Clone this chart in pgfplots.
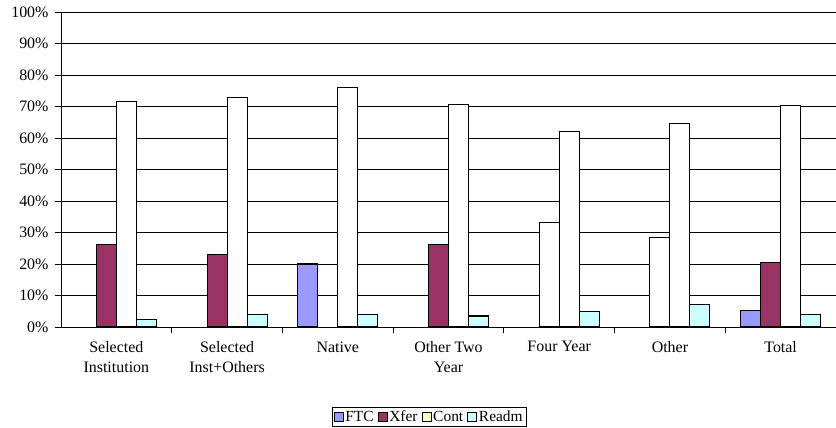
\documentclass[border=0pt]{standalone}
\usepackage{pgfplots}
\pgfplotsset{compat=1.18}
\usepackage{fontspec}
\setmainfont{Liberation Serif}
\definecolor{ftc}{HTML}{9999FF}
\definecolor{xfer}{HTML}{993366}
\definecolor{contc}{HTML}{FFFFCC}
\definecolor{readm}{HTML}{CCFFFF}
\newcommand{\chartfont}{\fontsize{16}{20}\selectfont}
\newcommand{\legfont}{\fontsize{15.5}{18}\selectfont}
\begin{document}
\begin{tikzpicture}
\begin{axis}[
  scale only axis, width=775bp, height=315bp,
  xmin=-0.5, xmax=6.5, ymin=0, ymax=100,
  axis x line=bottom, axis y line=left,
  axis line style={-, black, line width=0.9bp},
  bar width=20bp,
  ytick={0,10,...,100},
  yticklabels={0\%,10\%,20\%,30\%,40\%,50\%,60\%,70\%,80\%,90\%,100\%},
  yticklabel style={xshift=-3bp},
  xtick={0,...,6},
  xticklabels={{Selected\\Institution},{Selected\\Inst+Others},{Native},{Other Two\\Year},{Four Year},{Other},{Total}},
  xticklabel style={align=center, yshift=-5bp},
  major x tick style={draw=none},
  minor xtick={0.5,1.5,...,5.5},
  tick align=outside,
  major tick length=6bp, minor tick length=6bp,
  tick style={black, line width=0.9bp},
  ymajorgrids, grid style={black, line width=0.7bp},
  tick label style={font=\chartfont},
  legend columns=4,
  legend style={draw=black, line width=0.7bp, at={(rel axis cs:0.475,-0.285)}, anchor=center,
    font=\legfont, inner sep=1.5bp,
    /tikz/every odd column/.append style={column sep=0bp},
    /tikz/every even column/.append style={column sep=2bp}},
  legend image code/.code={\draw[#1, line width=0.7bp] (0bp,-4.5bp) rectangle (9bp,4.5bp);},
]
\addplot[ybar, bar shift=-30bp, draw=black, line width=1.1bp, fill=ftc] coordinates {(2,20.0) (6,5.3)};
\addlegendentry{FTC}
\addplot[ybar, bar shift=-10bp, draw=black, line width=1.1bp, fill=xfer] coordinates {(0,26.1) (1,23.0) (3,26.2) (6,20.6)};
\addlegendentry{Xfer}
\addplot[ybar, bar shift=-10bp, draw=black, line width=1.1bp, fill=white, forget plot] coordinates {(4,33.2) (5,28.3)};
\addplot[ybar, bar shift=10bp, draw=black, line width=1.1bp, fill=white,
  legend image code/.code={\draw[black, fill=contc, line width=0.7bp] (0bp,-4.5bp) rectangle (9bp,4.5bp);}]
  coordinates {(0,71.7) (1,72.9) (2,76.1) (3,70.7) (4,62.1) (5,64.6) (6,70.2)};
\addlegendentry{Cont}
\addplot[ybar, bar shift=30bp, draw=black, line width=1.1bp, fill=readm] coordinates {(0,2.3) (1,4.1) (2,3.9) (3,3.5) (4,4.9) (5,7.2) (6,4.0)};
\addlegendentry{Readm}
\end{axis}
\pgfresetboundingbox
\path (current axis.south west) ++(-61bp,-101bp) rectangle ++(836bp,428bp);
\end{tikzpicture}
\end{document}
